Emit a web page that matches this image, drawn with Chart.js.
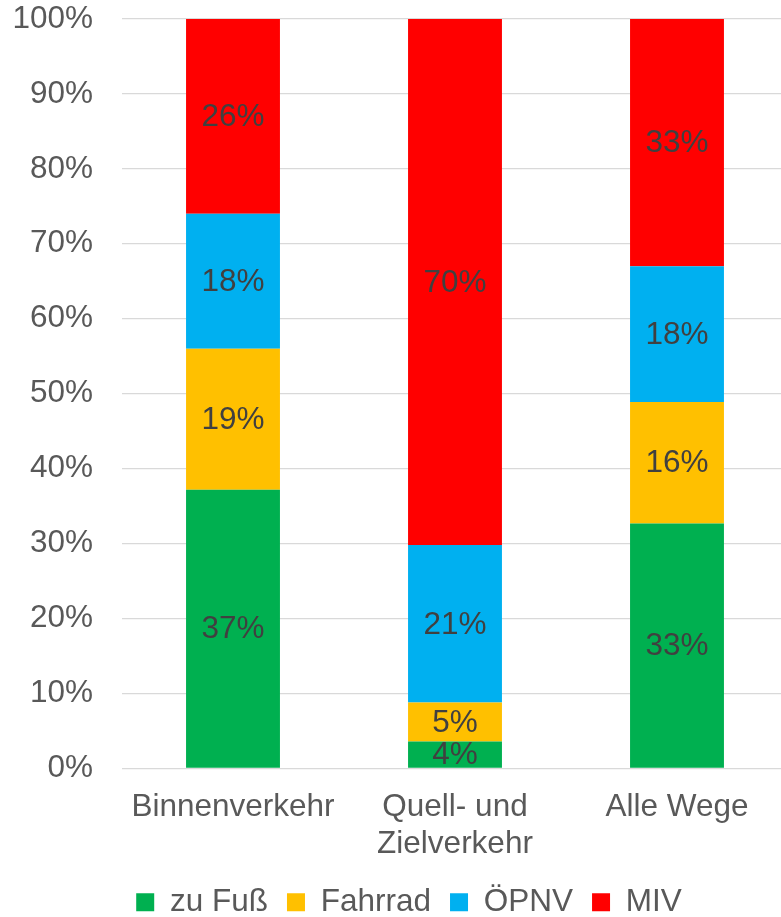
<!DOCTYPE html>
<html>
<head>
<meta charset="utf-8">
<script src="https://cdn.jsdelivr.net/npm/chart.js@4/dist/chart.umd.min.js"></script>
<style>
  html, body { margin: 0; padding: 0; background: #ffffff; overflow: hidden; }
  #wrap { position: relative; width: 781px; height: 917px; overflow: hidden; }
  #c { position: absolute; left: 0; top: 0; }
</style>
</head>
<body>
<div id="wrap"><canvas id="c" width="791" height="960"></canvas></div>
<script>
const categories = ['Binnenverkehr', ['Quell- und', 'Zielverkehr'], 'Alle Wege'];
const seriesNames = ['zu Fuß', 'Fahrrad', 'ÖPNV', 'MIV'];
const zuFuss  = [37.2, 3.6, 32.7];
const fahrrad = [18.8, 5.2, 16.2];
const oepnv   = [18.0, 21.0, 18.1];
const miv     = [26.0, 70.2, 33.0];
const yTicks  = [0, 10, 20, 30, 40, 50, 60, 70, 80, 90, 100];
const colors  = ['#00B050', '#FFC000', '#00B0F0', '#FF0000'];

const FONT = '"Liberation Sans", Arial, sans-serif';
const FS = 31.5;

const valueLabels = {
  id: 'valueLabels',
  afterDatasetsDraw(chart) {
    const ctx = chart.ctx;
    ctx.save();
    ctx.font = FS + 'px ' + FONT;
    ctx.fillStyle = '#404040';
    ctx.textAlign = 'center';
    ctx.textBaseline = 'middle';
    chart.data.datasets.forEach((ds, i) => {
      const meta = chart.getDatasetMeta(i);
      meta.data.forEach((el, j) => {
        const v = ds.data[j];
        const y = (el.y + el.base) / 2;
        ctx.fillText(Math.round(v) + '%', el.x, y + 1);
      });
    });
    ctx.restore();
  }
};

// let the y tick labels use the space left of the scale box (avoid clipping "100%")
const widenYLabels = {
  id: 'widenYLabels',
  afterLayout(chart) { chart.scales.y.left = 0; }
};

const canvas = document.getElementById('c');
const chart = new Chart(canvas, {
  type: 'bar',
  data: {
    labels: categories,
    datasets: [
      { label: seriesNames[0], data: zuFuss,  backgroundColor: colors[0] },
      { label: seriesNames[1], data: fahrrad, backgroundColor: colors[1] },
      { label: seriesNames[2], data: oepnv,   backgroundColor: colors[2] },
      { label: seriesNames[3], data: miv,     backgroundColor: colors[3] }
    ]
  },
  options: {
    responsive: false,
    animation: false,
    devicePixelRatio: 1,
    layout: { padding: { left: 30, right: 0, top: 4, bottom: 0 } },
    datasets: { bar: { categoryPercentage: 1, barPercentage: 0.423, borderWidth: 0 } },
    scales: {
      x: {
        stacked: true,
        grid: { display: false },
        border: { display: false },
        ticks: {
          color: '#595959',
          font: { family: FONT, size: FS, lineHeight: 1.15 },
          padding: 13,
          maxRotation: 0,
          autoSkip: false
        },
        afterFit(scale) { scale.height = 99; }
      },
      y: {
        stacked: true,
        min: 0,
        max: 100,
        afterBuildTicks(scale) { scale.ticks = yTicks.map(v => ({ value: v })); },
        grid: { color: '#D9D9D9', lineWidth: 1.3, drawTicks: false },
        border: { display: false },
        ticks: {
          color: '#595959',
          font: { family: FONT, size: FS },
          padding: 29,
          callback: v => v + '%'
        },
        afterFit(scale) { scale.width = 92; }
      }
    },
    plugins: {
      legend: {
        position: 'bottom',
        labels: {
          color: '#595959',
          font: { family: FONT, size: FS },
          boxWidth: 18,
          boxHeight: 18,
          padding: 19
        }
      },
      tooltip: { enabled: false }
    }
  },
  plugins: [valueLabels, widenYLabels]
});

// fit the plot area to the reference frame (top at 19px, 750px tall)
const h0 = chart.chartArea.bottom - chart.chartArea.top;
chart.resize(791, Math.round(canvas.height + (750 - h0)));
canvas.style.top = (19 - chart.chartArea.top) + 'px';
</script>
</body>
</html>
